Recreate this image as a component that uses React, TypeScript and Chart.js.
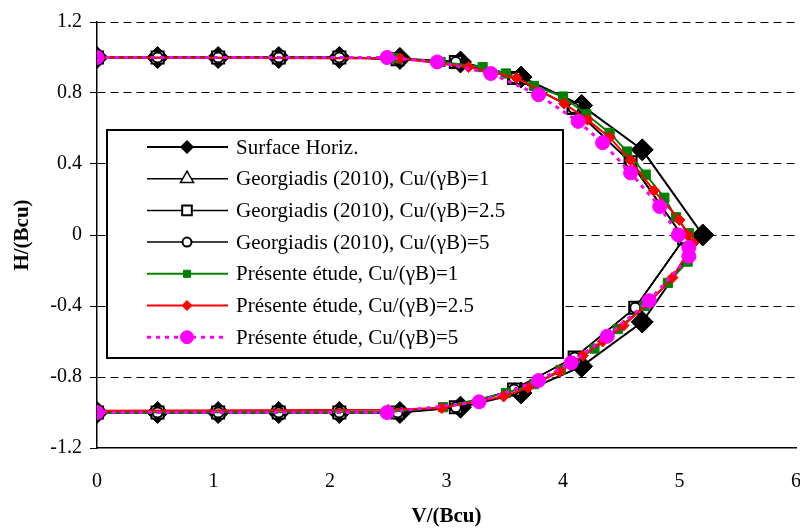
import React, { useEffect, useRef } from 'react';
import { Chart, registerables } from 'chart.js';
import { drawPoint } from 'chart.js/helpers';

Chart.register(...registerables);

// ---------- data ----------
const SERIES_LABELS = [
  'Surface Horiz.',
  'Georgiadis (2010), Cu/(γB)=1',
  'Georgiadis (2010), Cu/(γB)=2.5',
  'Georgiadis (2010), Cu/(γB)=5',
  'Présente étude, Cu/(γB)=1',
  'Présente étude, Cu/(γB)=2.5',
  'Présente étude, Cu/(γB)=5',
];

const SURF_V = [0, 0.52, 1.04, 1.56, 2.08, 2.6, 3.12, 3.64, 4.16, 4.68, 5.2, 4.68, 4.16, 3.64, 3.12, 2.6, 2.08, 1.56, 1.04, 0.52, 0];
const SURF_H = [1, 1, 1, 1, 1, 0.995, 0.975, 0.89, 0.73, 0.48, 0, -0.49, -0.74, -0.89, -0.97, -1, -1, -1, -1, -1, -1];

const GEO1_V = [0, 0.52, 1.04, 1.56, 2.08, 2.58, 3.08, 3.58, 4.09, 4.58, 5.04, 4.62, 4.1, 3.58, 3.08, 2.58, 2.08, 1.56, 1.04, 0.52, 0];
const GEO1_H = [1, 1, 1, 1, 1, 0.99, 0.975, 0.885, 0.715, 0.41, -0.02, -0.41, -0.69, -0.87, -0.97, -1, -1, -1, -1, -1, -1];

const GEO25_V = [0, 0.52, 1.04, 1.56, 2.08, 2.58, 3.08, 3.58, 4.09, 4.58, 5.04, 4.62, 4.1, 3.58, 3.08, 2.58, 2.08, 1.56, 1.04, 0.52, 0];
const GEO25_H = [1, 1, 1, 1, 1, 0.99, 0.975, 0.885, 0.715, 0.41, -0.02, -0.41, -0.69, -0.87, -0.97, -1, -1, -1, -1, -1, -1];

const GEO5_V = [0, 0.52, 1.04, 1.56, 2.08, 2.58, 3.08, 3.58, 4.09, 4.58, 5.04, 4.62, 4.1, 3.58, 3.08, 2.58, 2.08, 1.56, 1.04, 0.52, 0];
const GEO5_H = [1, 1, 1, 1, 1, 0.99, 0.975, 0.885, 0.715, 0.41, -0.02, -0.41, -0.69, -0.87, -0.97, -1, -1, -1, -1, -1, -1];

const PE1_V = [0, 2.55, 2.95, 3.31, 3.51, 3.75, 4.0, 4.2, 4.4, 4.55, 4.71, 4.87, 4.97, 5.08, 5.07, 4.9, 4.7, 4.47, 4.27, 3.98, 3.75, 3.51, 2.97, 2.5, 0];
const PE1_H = [1, 0.997, 0.975, 0.946, 0.91, 0.84, 0.78, 0.68, 0.575, 0.47, 0.34, 0.21, 0.1, 0.01, -0.15, -0.27, -0.4, -0.53, -0.64, -0.76, -0.84, -0.89, -0.97, -0.997, -1];

const PE25_V = [0, 2.6, 3.19, 3.6, 4.01, 4.21, 4.4, 4.58, 4.78, 5.0, 5.07, 5.12, 4.94, 4.74, 4.52, 4.34, 4.17, 3.97, 3.7, 3.49, 2.96, 2.5, 0];
const PE25_H = [1, 0.995, 0.946, 0.885, 0.74, 0.65, 0.55, 0.42, 0.25, 0.085, 0, -0.045, -0.24, -0.38, -0.51, -0.6, -0.68, -0.77, -0.86, -0.91, -0.975, -0.985, -0.99];

const PE5_V = [0, 2.49, 2.92, 3.38, 3.79, 4.13, 4.34, 4.58, 4.83, 4.99, 5.08, 5.08, 4.74, 4.38, 4.07, 3.79, 3.28, 2.49, 0];
const PE5_H = [1, 1.0, 0.975, 0.91, 0.79, 0.64, 0.52, 0.35, 0.16, 0.0, -0.07, -0.12, -0.37, -0.57, -0.72, -0.82, -0.94, -1.0, -1.0];

const X_TICKS = [0, 1, 2, 3, 4, 5, 6];
const X_TICK_LABELS = ['0', '1', '2', '3', '4', '5', '6'];
const Y_TICKS = [-1.2, -0.8, -0.4, 0, 0.4, 0.8, 1.2];
const Y_TICK_LABELS = ['-1.2', '-0.8', '-0.4', '0', '0.4', '0.8', '1.2'];

const X_TITLE = 'V/(Bcu)';
const Y_TITLE = 'H/(Bcu)';

// ---------- styling ----------
const SERIF = '"Liberation Serif", "Times New Roman", serif';

const toPts = (v: number[], h: number[]) => v.map((x, i) => ({ x, y: h[i] }));

type Style = {
  color: string;
  lineWidth: number;
  dash: number[];
  pointStyle: string;
  radius: number;
  fill: string;
  pointBorder: number;
  legendRadius: number;
};

const STYLES: Style[] = [
  { color: '#000000', lineWidth: 2, dash: [], pointStyle: 'rectRot', radius: 11, fill: '#000000', pointBorder: 1, legendRadius: 6.5 },
  { color: '#000000', lineWidth: 1.5, dash: [], pointStyle: 'triangle', radius: 4, fill: '#ffffff', pointBorder: 1.5, legendRadius: 7.5 },
  { color: '#000000', lineWidth: 1.5, dash: [], pointStyle: 'rect', radius: 8.5, fill: '#ffffff', pointBorder: 2, legendRadius: 6.8 },
  { color: '#000000', lineWidth: 1.5, dash: [], pointStyle: 'circle', radius: 5, fill: '#ffffff', pointBorder: 2, legendRadius: 4.5 },
  { color: '#008000', lineWidth: 2, dash: [], pointStyle: 'rect', radius: 6.5, fill: '#008000', pointBorder: 1, legendRadius: 5 },
  { color: '#ff0000', lineWidth: 2, dash: [], pointStyle: 'rectRot', radius: 5.5, fill: '#ff0000', pointBorder: 1, legendRadius: 5 },
  { color: '#ff00ff', lineWidth: 3, dash: [4, 5], pointStyle: 'circle', radius: 7, fill: '#ff00ff', pointBorder: 1, legendRadius: 6.5 },
];

const SERIES_DATA = [
  toPts(SURF_V, SURF_H),
  toPts(GEO1_V, GEO1_H),
  toPts(GEO25_V, GEO25_H),
  toPts(GEO5_V, GEO5_H),
  toPts(PE1_V, PE1_H),
  toPts(PE25_V, PE25_H),
  toPts(PE5_V, PE5_H),
];

const boxLegend = {
  id: 'boxLegend',
  afterDraw(chart: any) {
    const ctx: CanvasRenderingContext2D = chart.ctx;
    const x0 = 107, y0 = 130, x1 = 563, y1 = 358;
    ctx.save();
    ctx.setLineDash([]);
    ctx.fillStyle = '#ffffff';
    ctx.fillRect(x0, y0, x1 - x0, y1 - y0);
    ctx.strokeStyle = '#000000';
    ctx.lineWidth = 2;
    ctx.strokeRect(x0, y0, x1 - x0, y1 - y0);
    SERIES_LABELS.forEach((label, i) => {
      const st = STYLES[i];
      const y = 147 + i * 31.7;
      ctx.setLineDash(st.dash);
      ctx.strokeStyle = st.color;
      ctx.lineWidth = st.lineWidth;
      ctx.beginPath();
      ctx.moveTo(147, y);
      ctx.lineTo(228, y);
      ctx.stroke();
      ctx.setLineDash([]);
      ctx.fillStyle = st.fill;
      ctx.strokeStyle = st.color;
      ctx.lineWidth = st.pointBorder;
      drawPoint(ctx, { pointStyle: st.pointStyle as any, rotation: 0, radius: st.legendRadius, borderWidth: st.pointBorder }, 187, y);
      ctx.fillStyle = '#000000';
      ctx.font = `21px ${SERIF}`;
      ctx.textBaseline = 'middle';
      ctx.textAlign = 'left';
      ctx.fillText(label, 236, y + 1);
    });
    ctx.restore();
  },
};

export default function App() {
  const ref = useRef<HTMLCanvasElement | null>(null);

  useEffect(() => {
    if (!ref.current) return;
    const datasets = SERIES_LABELS.map((label, i) => {
      const st = STYLES[i];
      return {
        label,
        data: SERIES_DATA[i],
        showLine: true,
        borderColor: st.color,
        borderWidth: st.lineWidth,
        borderDash: st.dash,
        backgroundColor: st.fill,
        pointStyle: st.pointStyle,
        pointRadius: st.radius,
        pointHoverRadius: st.radius,
        pointBackgroundColor: st.fill,
        pointBorderColor: st.color,
        pointBorderWidth: st.pointBorder,
        tension: 0,
        fill: false,
        order: SERIES_LABELS.length - i,
      };
    });

    const chart = new Chart(ref.current, {
      type: 'scatter',
      data: { datasets: datasets as any },
      plugins: [boxLegend],
      options: {
        responsive: false,
        animation: false,
        events: [],
        layout: { autoPadding: false, padding: { left: 0, right: 4, top: 22, bottom: 0 } },
        plugins: {
          legend: { display: false },
          tooltip: { enabled: false },
        },
        scales: {
          x: {
            type: 'linear',
            min: 0,
            max: 6,
            afterBuildTicks: (s: any) => { s.ticks = X_TICKS.map((v) => ({ value: v })); },
            afterFit: (s: any) => { s.height = 82; s.paddingLeft = 0; s.paddingRight = 0; },
            ticks: {
              color: '#000',
              font: { family: SERIF, size: 20 },
              padding: 22,
              maxRotation: 0,
              callback: (_v: any, idx: number) => X_TICK_LABELS[idx],
            },
            grid: { display: false, drawTicks: false },
            border: { display: true, color: '#000', width: 1.5 },
            title: {
              display: true,
              text: X_TITLE,
              color: '#000',
              font: { family: SERIF, size: 21, weight: 'bold' },
              padding: { top: 0, bottom: 1 },
            },
          },
          y: {
            type: 'linear',
            min: -1.2,
            max: 1.2,
            afterBuildTicks: (s: any) => { s.ticks = Y_TICKS.map((v) => ({ value: v })); },
            afterFit: (s: any) => { s.width = 97; s.paddingTop = 0; s.paddingBottom = 0; },
            ticks: {
              color: '#000',
              font: { family: SERIF, size: 20 },
              padding: 8,
              callback: (_v: any, idx: number) => Y_TICK_LABELS[idx],
            },
            grid: {
              color: (c: any) => (c.tick && c.tick.value === -1.2 ? 'rgba(0,0,0,0)' : '#000'),
              lineWidth: 1,
              drawTicks: true,
              tickLength: 7,
              tickColor: '#000',
              tickWidth: 1,
              tickBorderDash: [],
            },
            border: { display: true, color: '#000', width: 1.5, dash: [8, 5] },
            title: {
              display: true,
              text: Y_TITLE,
              color: '#000',
              font: { family: SERIF, size: 21, weight: 'bold' },
              padding: { top: 10, bottom: 0 },
            },
          },
        },
      } as any,
    });
    return () => chart.destroy();
  }, []);

  return (
    <div style={{ position: 'absolute', left: 0, top: 0, width: 800, height: 530, background: '#fff' }}>
      <canvas ref={ref} width={800} height={530} style={{ display: 'block' }} />
    </div>
  );
}
